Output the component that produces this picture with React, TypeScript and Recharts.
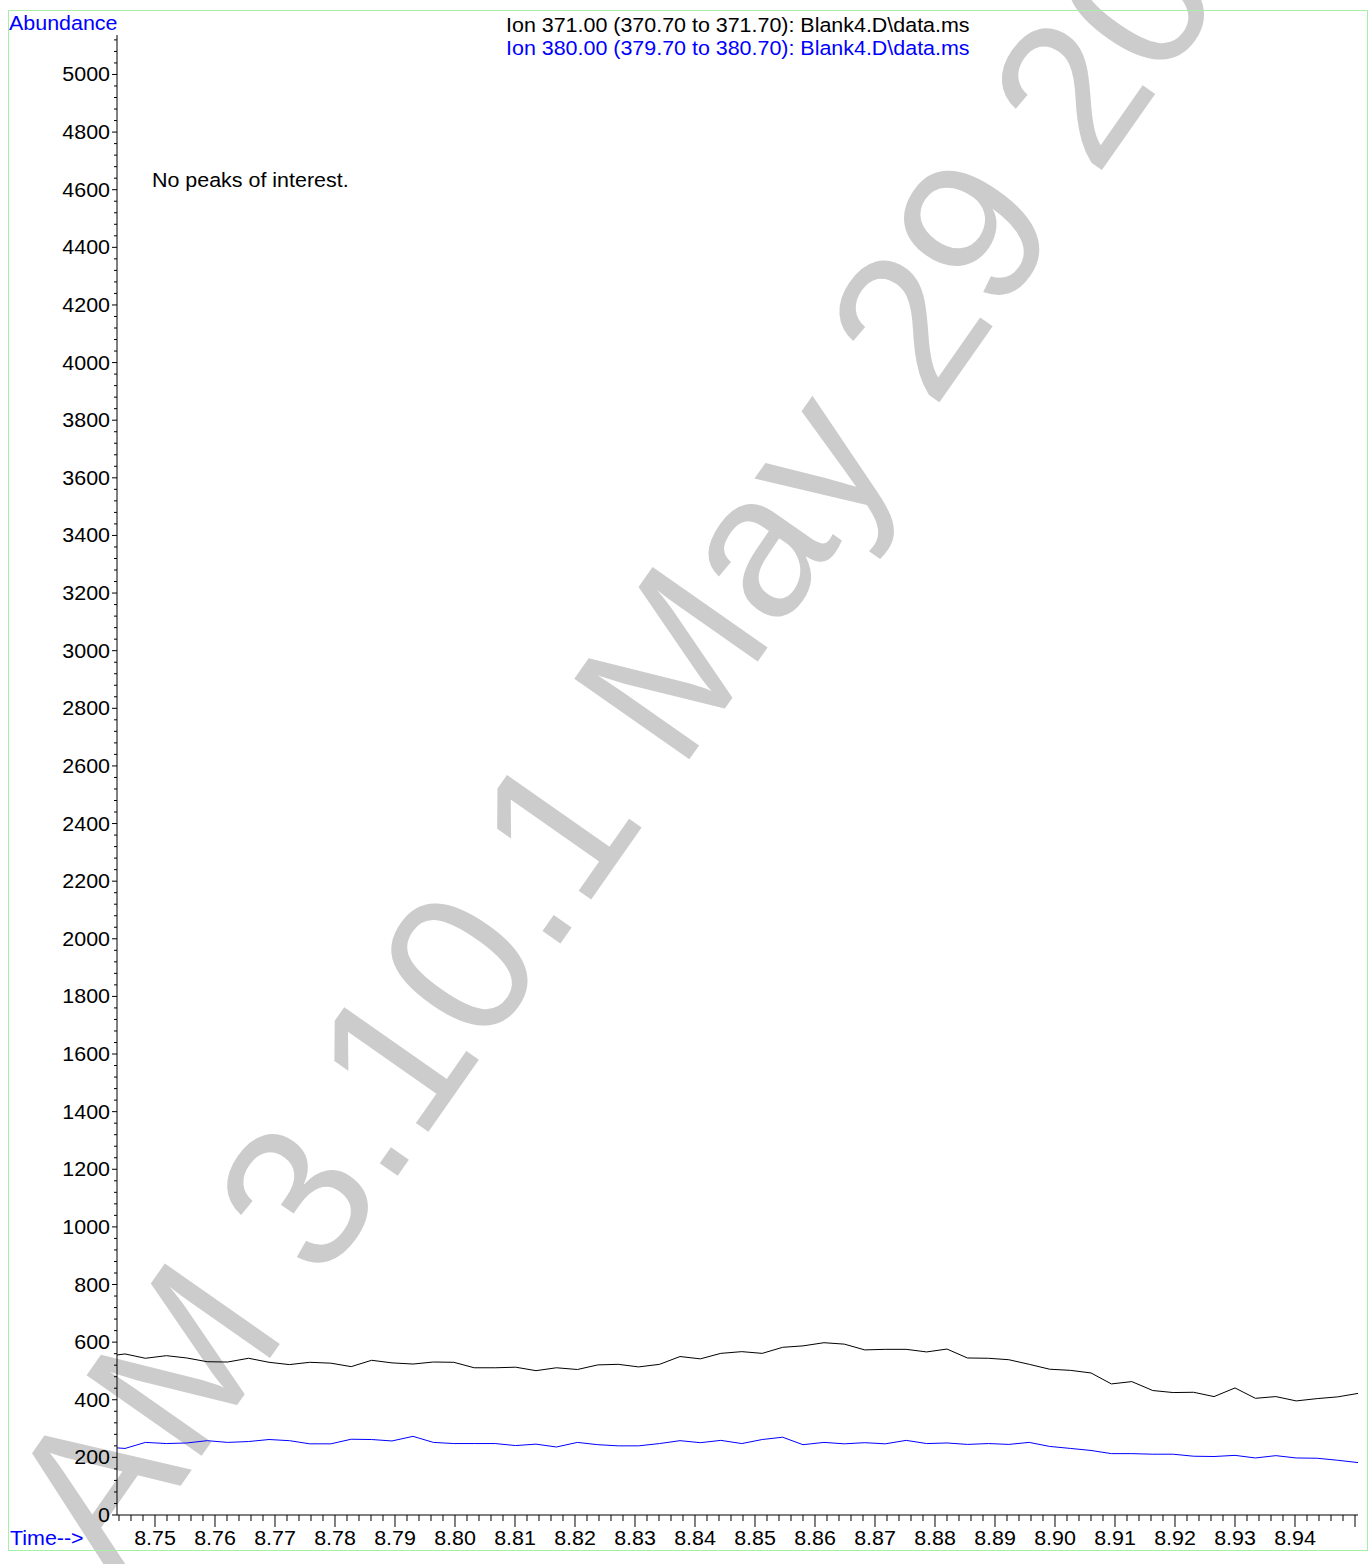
import React from "react";
import { LineChart, Line, XAxis, YAxis } from "recharts";

// Retention time (min)
const times = [
  8.7416, 8.745, 8.7484, 8.7519, 8.7553, 8.7587, 8.7621, 8.7656, 8.769, 8.7724, 8.7758,
  8.7793, 8.7827, 8.7861, 8.7895, 8.793, 8.7964, 8.7998, 8.8032, 8.8067, 8.8101,
  8.8135, 8.8169, 8.8204, 8.8238, 8.8272, 8.8306, 8.8341, 8.8375, 8.8409, 8.8443,
  8.8478, 8.8512, 8.8546, 8.858, 8.8615, 8.8649, 8.8683, 8.8717, 8.8752, 8.8786,
  8.882, 8.8854, 8.8889, 8.8923, 8.8957, 8.8991, 8.9026, 8.906, 8.9094, 8.9128,
  8.9163, 8.9197, 8.9231, 8.9265, 8.93, 8.9334, 8.9368, 8.9402, 8.9437, 8.9471,
  8.9505,
];

// Ion 371.00 abundance (black)
const ion371 = [
  550, 559, 544, 553, 545, 532, 531, 544, 530, 522, 530,
  527, 515, 537, 528, 524, 531, 530, 511, 511, 513,
  501, 511, 505, 521, 523, 514, 523, 550, 542, 561,
  567, 561, 582, 587, 598, 593, 573, 575, 575, 566,
  576, 545, 544, 539, 523, 506, 502, 493, 455, 463,
  432, 425, 426, 411, 441, 405, 411, 396, 404, 410,
  422,
];

// Ion 380.00 abundance (blue)
const ion380 = [
  236, 231, 252, 248, 250, 258, 252, 255, 262, 258, 247,
  247, 263, 262, 257, 273, 252, 248, 248, 248, 241,
  246, 236, 252, 244, 240, 240, 248, 258, 251, 259,
  248, 262, 270, 244, 252, 247, 251, 247, 259, 248,
  250, 245, 248, 245, 252, 238, 231, 224, 213, 213,
  211, 211, 204, 203, 207, 198, 206, 198, 197, 190,
  182,
];

const xTickLabels = [
  "8.75", "8.76", "8.77", "8.78", "8.79", "8.80", "8.81", "8.82", "8.83", "8.84",
  "8.85", "8.86", "8.87", "8.88", "8.89", "8.90", "8.91", "8.92", "8.93", "8.94",
];

const title371 = "Ion 371.00 (370.70 to 371.70): Blank4.D\\data.ms";
const title380 = "Ion 380.00 (379.70 to 380.70): Blank4.D\\data.ms";
const yTitle = "Abundance";
const xTitle = "Time-->";
const note = "No peaks of interest.";
const watermark = "AM 3.10.1 May 29 2025";

const W = 1372;
const H = 1564;
const PLOT_LEFT = 117;
const PLOT_BOTTOM = 1515;
const FONT = "'Liberation Sans', Arial, Helvetica, sans-serif";
const FS = 19.5;
const SX = 1.1;

const data = times.map((t, i) => ({ t, a: ion371[i], b: ion380[i] }));

const yTicks = Array.from({ length: 129 }, (_, i) => i * 40);
const xTicks = Array.from({ length: 104 }, (_, i) => Math.round((8.744 + i * 0.002) * 1000) / 1000);

const SText = ({ x, y, children, fill = "#000", anchor = "start" }: any) => (
  <text
    transform={`translate(${x},${y}) scale(${SX},1)`}
    x={0}
    y={0}
    fill={fill}
    fontSize={FS}
    fontFamily={FONT}
    textAnchor={anchor}
  >
    {children}
  </text>
);

const YTick = (props: any) => {
  const { y, payload } = props;
  const v = payload.value;
  const major = v % 200 === 0;
  return (
    <g>
      <line x1={PLOT_LEFT - (major ? 5 : 3)} x2={PLOT_LEFT} y1={y} y2={y} stroke="#000" strokeWidth={1} />
      {major && v <= 5000 ? (
        <SText x={110} y={y + 7} anchor="end">
          {String(v)}
        </SText>
      ) : null}
    </g>
  );
};

const XTick = (props: any) => {
  const { x, payload } = props;
  const v = payload.value;
  const hund = Math.round(v * 1000);
  const major = hund % 10 === 0;
  const label = v.toFixed(2);
  const show = major && xTickLabels.includes(label);
  return (
    <g>
      <line x1={x} x2={x} y1={PLOT_BOTTOM} y2={PLOT_BOTTOM + (major ? 12 : 6)} stroke="#000" strokeWidth={1} />
      {show ? (
        <SText x={x} y={1545} anchor="middle">
          {label}
        </SText>
      ) : null}
    </g>
  );
};

export default function App() {
  return (
    <div style={{ position: "absolute", left: 0, top: 0, width: W, height: H, background: "#fff", overflow: "hidden" }}>
      <svg width={W} height={H} style={{ position: "absolute", left: 0, top: 0 }}>
        <text
          transform="translate(114,1581) rotate(-55)"
          x={0}
          y={0}
          fontSize={204}
          fontFamily={FONT}
          fill="#cccccc"
        >
          {watermark}
        </text>
      </svg>
      <div style={{ position: "absolute", left: 0, top: 0 }}>
        <LineChart width={W} height={H} data={data} margin={{ top: 35, right: 14, bottom: 0, left: 57 }}>
          <XAxis
            dataKey="t"
            type="number"
            domain={[8.743667, 8.9505]}
            allowDataOverflow
            ticks={xTicks}
            interval={0}
            height={49}
            axisLine={{ stroke: "#000", strokeWidth: 1 }}
            tickLine={false}
            tick={<XTick />}
          />
          <YAxis
            type="number"
            domain={[0, 5137]}
            allowDataOverflow
            ticks={yTicks}
            interval={0}
            width={60}
            axisLine={{ stroke: "#000", strokeWidth: 1 }}
            tickLine={false}
            tick={<YTick />}
          />
          <Line type="linear" dataKey="a" stroke="#000000" strokeWidth={1} dot={false} isAnimationActive={false} />
          <Line type="linear" dataKey="b" stroke="#0000ff" strokeWidth={1} dot={false} isAnimationActive={false} />
        </LineChart>
      </div>
      <svg width={W} height={H} style={{ position: "absolute", left: 0, top: 0, pointerEvents: "none" }}>
        <rect x={8.5} y={10.5} width={1359} height={1540} fill="none" stroke="#a6f0a6" strokeWidth={1} />
        <SText x={9} y={29.5} fill="#0000ff">{yTitle}</SText>
        <SText x={10} y={1545} fill="#0000ff">{xTitle}</SText>
        <SText x={506} y={31.5}>{title371}</SText>
        <SText x={506} y={55} fill="#0000ff">{title380}</SText>
        <SText x={152} y={186.5}>{note}</SText>
      </svg>
    </div>
  );
}
